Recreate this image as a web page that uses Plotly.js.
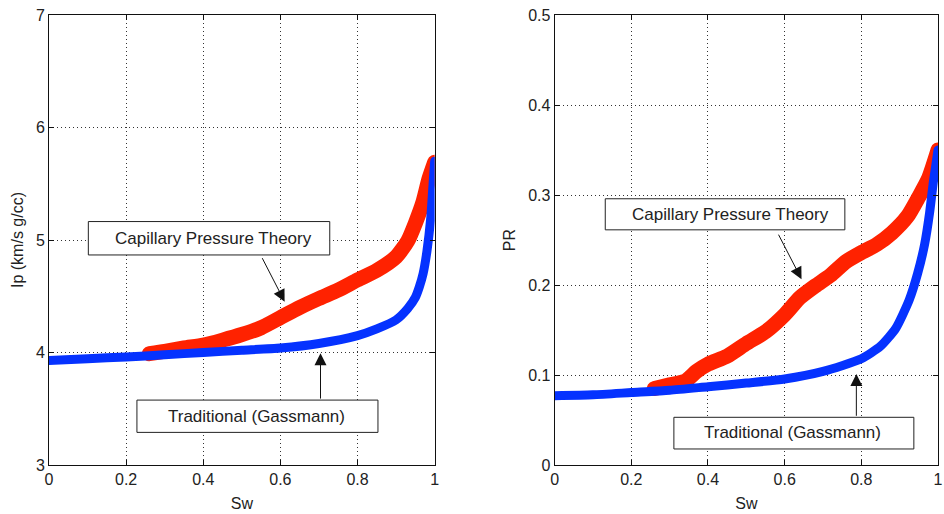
<!DOCTYPE html>
<html>
<head>
<meta charset="utf-8">
<script src="https://cdn.plot.ly/plotly-3.0.1.min.js"></script>
<style>
html,body{margin:0;padding:0;background:#fff;}
#chart{width:944px;height:514px;}
#chart .js-line{stroke-linecap:round !important;stroke-linejoin:round !important;}
</style>
</head>
<body>
<div id="chart"></div>
<script>
// ---- Data ----
const swCapIp = [0.26, 0.30, 0.35, 0.40, 0.45, 0.50, 0.55, 0.60, 0.65, 0.70, 0.75, 0.80, 0.85, 0.90, 0.93, 0.95, 0.97, 0.985, 1.0];
const ipCap   = [3.99, 4.01, 4.04, 4.065, 4.11, 4.16, 4.22, 4.31, 4.40, 4.48, 4.555, 4.645, 4.73, 4.85, 4.99, 5.15, 5.34, 5.54, 5.69];

const swGasIp = [0, 0.1, 0.2, 0.3, 0.4, 0.5, 0.6, 0.7, 0.8, 0.85, 0.9, 0.93, 0.95, 0.96, 0.97, 0.98, 0.99, 0.995, 1.0];
const ipGas   = [3.93, 3.945, 3.96, 3.98, 4.0, 4.02, 4.04, 4.08, 4.15, 4.21, 4.29, 4.39, 4.49, 4.58, 4.70, 4.90, 5.2, 5.45, 5.7];

const swCapPr = [0.26, 0.30, 0.34, 0.37, 0.40, 0.45, 0.50, 0.55, 0.60, 0.64, 0.68, 0.72, 0.76, 0.80, 0.84, 0.88, 0.92, 0.95, 0.975, 1.0];
const prCap   = [0.085, 0.089, 0.093, 0.104, 0.112, 0.121, 0.135, 0.148, 0.167, 0.186, 0.199, 0.211, 0.226, 0.236, 0.245, 0.258, 0.276, 0.298, 0.318, 0.35];

const swGasPr = [0, 0.1, 0.2, 0.3, 0.4, 0.5, 0.6, 0.7, 0.8, 0.85, 0.89, 0.925, 0.947, 0.965, 0.978, 0.988, 0.995, 1.0];
const prGas   = [0.077, 0.078, 0.0805, 0.083, 0.087, 0.091, 0.0955, 0.104, 0.118, 0.132, 0.152, 0.1835, 0.213, 0.245, 0.28, 0.315, 0.335, 0.35];

const xTicks = [0, 0.2, 0.4, 0.6, 0.8, 1];
const xTickText = ['0', '0.2', '0.4', '0.6', '0.8', '1'];
const ipTicks = [3, 4, 5, 6, 7];
const ipTickText = ['3', '4', '5', '6', '7'];
const prTicks = [0, 0.1, 0.2, 0.3, 0.4, 0.5];
const prTickText = ['0', '0.1', '0.2', '0.3', '0.4', '0.5'];

const labelCap = 'Capillary Pressure Theory';
const labelGas = 'Traditional (Gassmann)';

// ---- Styling ----
const FONT = 'Liberation Sans, Arial, Helvetica, sans-serif';
const RED = '#ff2200';
const BLUE = '#0532ff';

const traces = [
  {x: swCapIp, y: ipCap, xaxis: 'x', yaxis: 'y', mode: 'lines', line: {color: RED, width: 15, shape: 'spline', smoothing: 0.6}, hoverinfo: 'skip'},
  {x: swGasIp, y: ipGas, xaxis: 'x', yaxis: 'y', mode: 'lines', line: {color: BLUE, width: 9, shape: 'spline', smoothing: 0.6}, hoverinfo: 'skip'},
  {x: swCapPr, y: prCap, xaxis: 'x2', yaxis: 'y2', mode: 'lines', line: {color: RED, width: 15, shape: 'spline', smoothing: 0.6}, hoverinfo: 'skip'},
  {x: swGasPr, y: prGas, xaxis: 'x2', yaxis: 'y2', mode: 'lines', line: {color: BLUE, width: 9, shape: 'spline', smoothing: 0.6}, hoverinfo: 'skip'}
];

function axisBase() {
  return {
    showline: true, linecolor: '#111', linewidth: 1, mirror: 'ticks',
    ticks: 'inside', ticklen: 5, tickcolor: '#111', tickwidth: 1,
    showgrid: true, gridcolor: '#333', griddash: '1px,3px', gridwidth: 1,
    zeroline: false, fixedrange: true, ticklabeloverflow: 'allow',
    tickfont: {family: FONT, size: 16, color: '#222'}
  };
}

const xa = Object.assign(axisBase(), {domain: [0, 0.4338], range: [0, 1], tickvals: xTicks, ticktext: xTickText, anchor: 'y',
  title: {text: 'Sw', font: {family: FONT, size: 16, color: '#222'}, standoff: 10}});
const ya = Object.assign(axisBase(), {domain: [0, 1], range: [3, 7], tickvals: ipTicks, ticktext: ipTickText, anchor: 'x',
  title: {text: 'Ip (km/s g/cc)', font: {family: FONT, size: 16, color: '#222'}, standoff: 8}});
const xa2 = Object.assign(axisBase(), {domain: [0.5688, 1], range: [0, 1], tickvals: xTicks, ticktext: xTickText, anchor: 'y2',
  title: {text: 'Sw', font: {family: FONT, size: 16, color: '#222'}, standoff: 10}});
const ya2 = Object.assign(axisBase(), {domain: [0, 1], range: [0, 0.5], tickvals: prTicks, ticktext: prTickText, anchor: 'x2',
  title: {text: 'PR', font: {family: FONT, size: 16, color: '#222'}, standoff: 8}});

function box(xr, yr, x0, x1, y0, y1) {
  return {type: 'rect', xref: xr, yref: yr, x0: x0, x1: x1, y0: y0, y1: y1,
    line: {color: '#222', width: 1}, fillcolor: '#ffffff', layer: 'above'};
}
function label(xr, yr, x, y, t) {
  return {xref: xr, yref: yr, x: x, y: y, text: t, showarrow: false, xanchor: 'center', yanchor: 'middle',
    font: {family: FONT, size: 17, color: '#222'}};
}
function arrow(xr, yr, x, y, ax, ay) {
  return {xref: xr, yref: yr, x: x, y: y, axref: xr, ayref: yr, ax: ax, ay: ay, text: '',
    showarrow: true, arrowhead: 2, arrowsize: 2.4, arrowwidth: 1, arrowcolor: '#111', standoff: 0, startstandoff: 0};
}

const layout = {
  width: 944, height: 514,
  margin: {l: 49, r: 6, t: 15, b: 49},
  paper_bgcolor: '#ffffff', plot_bgcolor: '#ffffff',
  showlegend: false,
  xaxis: xa, yaxis: ya, xaxis2: xa2, yaxis2: ya2,
  shapes: [
    box('x', 'y', 0.102, 0.728, 4.867, 5.164),
    box('x', 'y', 0.228, 0.853, 3.29, 3.577),
    box('x2', 'y2', 0.132, 0.757, 0.2613, 0.2958),
    box('x2', 'y2', 0.311, 0.937, 0.0178, 0.053)
  ],
  annotations: [
    label('x', 'y', 0.427, 5.016, labelCap),
    label('x', 'y', 0.538, 3.435, labelGas),
    label('x2', 'y2', 0.458, 0.2785, labelCap),
    label('x2', 'y2', 0.621, 0.0356, labelGas),
    arrow('x', 'y', 0.611, 4.452, 0.551, 4.852),
    arrow('x', 'y', 0.704, 3.993, 0.704, 3.577),
    arrow('x2', 'y2', 0.644, 0.2065, 0.582, 0.2576),
    arrow('x2', 'y2', 0.787, 0.101, 0.787, 0.053)
  ]
};

Plotly.newPlot('chart', traces, layout, {staticPlot: true, displayModeBar: false});
</script>
</body>
</html>
